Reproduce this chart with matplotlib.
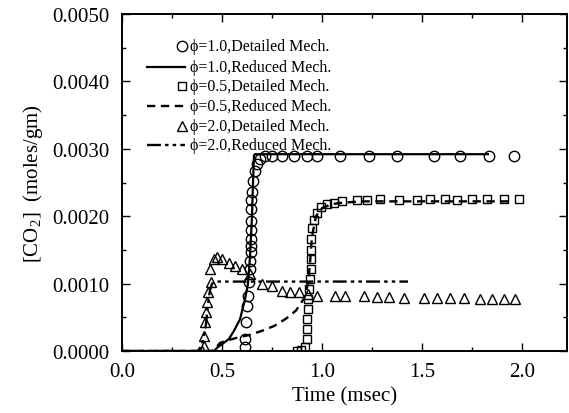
import matplotlib
matplotlib.use('Agg')
from matplotlib import pyplot as plt
from matplotlib.ticker import MultipleLocator, FormatStrFormatter

plt.rcParams['font.family'] = ['Liberation Serif', 'DejaVu Serif']
plt.rcParams['mathtext.fontset'] = 'custom'
plt.rcParams['mathtext.rm'] = 'Liberation Serif'
plt.rcParams['lines.scale_dashes'] = False

# phi = 1.0
t_det10 = [0.615, 0.615, 0.62, 0.625, 0.63, 0.635, 0.64, 0.64, 0.645, 0.645,
           0.645, 0.645, 0.645, 0.645, 0.645, 0.65, 0.655, 0.665, 0.675, 0.69,
           0.715, 0.75, 0.80, 0.86, 0.925, 0.975, 1.09, 1.235, 1.375, 1.56,
           1.69, 1.835, 1.96]
c_det10 = [0.00006, 0.00018, 0.00043, 0.00067, 0.00082, 0.00102, 0.00122, 0.00134,
           0.00147, 0.00156, 0.00166, 0.00180, 0.00193, 0.00211, 0.00224, 0.00236,
           0.00252, 0.00267, 0.00278, 0.00285, 0.00289, 0.0029, 0.0029, 0.0029,
           0.0029, 0.0029, 0.0029, 0.0029, 0.0029, 0.0029, 0.0029, 0.0029, 0.00289]
t_red10 = [0.0, 0.46, 0.48, 0.50, 0.535, 0.56, 0.59, 0.615, 0.63, 0.64, 0.65,
           0.655, 0.66, 0.665, 0.70, 1.83]
c_red10 = [0.0, 0.0, 0.00006, 0.0001, 0.00018, 0.0003, 0.00047, 0.00077, 0.001,
           0.0014, 0.002, 0.0025, 0.0029, 0.00292, 0.00292, 0.00292]

# phi = 0.5
t_det05 = [0.875, 0.895, 0.915, 0.925, 0.925, 0.925, 0.93, 0.93, 0.935, 0.94,
           0.945, 0.945, 0.945, 0.945, 0.95, 0.96, 0.975, 0.995, 1.025, 1.06,
           1.10, 1.175, 1.225, 1.29, 1.385, 1.475, 1.54, 1.615, 1.675, 1.75,
           1.825, 1.91, 1.985]
c_det05 = [0.0, 0.00002, 0.00006, 0.00018, 0.00033, 0.00047, 0.00062, 0.00077,
           0.00092, 0.00107, 0.00122, 0.00136, 0.0015, 0.00166, 0.00182, 0.00195,
           0.00205, 0.00213, 0.00218, 0.0022, 0.00222, 0.00224, 0.00224, 0.00225,
           0.00224, 0.00224, 0.00225, 0.00225, 0.00224, 0.00225, 0.00225, 0.00225,
           0.00225]
t_red05 = [0.0, 0.45, 0.47, 0.49, 0.53, 0.58, 0.64, 0.70, 0.76, 0.82, 0.87,
           0.91, 0.93, 0.94, 0.95, 0.97, 1.0, 1.05, 1.1, 1.2, 1.95]
c_red05 = [0.0, 0.0, 0.00005, 0.00012, 0.00016, 0.0002, 0.00024, 0.0003, 0.00037,
           0.00048, 0.0006, 0.00078, 0.001, 0.0013, 0.0017, 0.002, 0.00212,
           0.00218, 0.0022, 0.00222, 0.00222]

# phi = 2.0
t_det20 = [0.40, 0.41, 0.41, 0.415, 0.42, 0.425, 0.43, 0.445, 0.44, 0.46, 0.475,
           0.50, 0.535, 0.565, 0.60, 0.64, 0.70, 0.75, 0.80, 0.84, 0.885, 0.93,
           0.975, 1.065, 1.115, 1.21, 1.275, 1.335, 1.41, 1.51, 1.575, 1.64,
           1.71, 1.79, 1.85, 1.91, 1.965]
c_det20 = [0.0, 0.00007, 0.00022, 0.00043, 0.00058, 0.00073, 0.00088, 0.00102,
           0.00122, 0.00136, 0.0014, 0.00136, 0.0013, 0.00126, 0.00122, 0.00114,
           0.001, 0.00097, 0.00089, 0.00087, 0.00087, 0.00085, 0.00082, 0.00082,
           0.00082, 0.00081, 0.0008, 0.0008, 0.00079, 0.00078, 0.00078, 0.00078,
           0.00078, 0.00077, 0.00077, 0.00077, 0.00077]
t_red20 = [0.0, 0.38, 0.40, 0.42, 0.43, 0.44, 0.45, 0.47, 1.43]
c_red20 = [0.0, 0.0, 0.0001, 0.0004, 0.0007, 0.0009, 0.001, 0.00103, 0.00103]

fig = plt.figure(figsize=(5.69, 4.14), dpi=100)
ax = fig.add_axes([122/569, 1-352/414, 445/569, 337/414])

mk = dict(mfc='none', mec='black', mew=1.0, ls='none')
ax.plot(t_red10, c_red10, color='black', lw=1.6)
ax.plot(t_red05, c_red05, color='black', lw=1.7, dashes=(6, 4))
ax.plot(t_red20, c_red20, color='black', lw=1.7, dashes=(10, 3, 2.5, 3, 2.5, 3))
ax.plot(t_det10, c_det10, marker='o', ms=7.5, **mk)
ax.plot(t_det05, c_det05, marker='s', ms=6.0, **mk)
ax.plot(t_det20, c_det20, marker='^', ms=7.0, **mk)

ax.set_xlim(0, 2.225)
ax.set_ylim(0, 0.005)
ax.xaxis.set_major_locator(MultipleLocator(0.5))
ax.xaxis.set_minor_locator(MultipleLocator(0.25))
ax.yaxis.set_major_locator(MultipleLocator(0.001))
ax.yaxis.set_minor_locator(MultipleLocator(0.0005))
ax.xaxis.set_major_formatter(FormatStrFormatter('%.1f'))
ax.yaxis.set_major_formatter(FormatStrFormatter('%.4f'))
ax.tick_params(which='both', direction='in', top=True, right=True,
               width=1.0, labelsize=15)
ax.tick_params(axis='x', pad=8)
ax.tick_params(axis='y', pad=9)
ax.tick_params(which='major', length=6)
ax.tick_params(which='minor', length=3)
for s in ax.spines.values():
    s.set_linewidth(1.4)

ax.set_xlabel('Time (msec)', fontsize=15, labelpad=4)
ax.set_ylabel(r'[CO$_2$]  (moles/gm)', fontsize=15, labelpad=5)

# key, upper left
labels = ['\u03d5=1.0,Detailed Mech.', '\u03d5=1.0,Reduced Mech.',
          '\u03d5=0.5,Detailed Mech.', '\u03d5=0.5,Reduced Mech.',
          '\u03d5=2.0,Detailed Mech.', '\u03d5=2.0,Reduced Mech.']
rows = [47, 68, 87, 107, 127, 146]
tr = ax.transAxes
fx = lambda px: (px - 122) / 445
fy = lambda py: (352 - py) / 337
styles = [dict(marker='o', ms=7.5, **mk), dict(color='black', lw=1.6),
          dict(marker='s', ms=6.0, **mk), dict(color='black', lw=1.7, dashes=(6, 4)),
          dict(marker='^', ms=7.0, **mk),
          dict(color='black', lw=1.7, dashes=(10, 3, 2.5, 3, 2.5, 3))]
for lab, py, st in zip(labels, rows, styles):
    if 'marker' in st:
        ax.plot([fx(182)], [fy(py)], transform=tr, clip_on=False, **st)
    else:
        ax.plot([fx(147), fx(185)], [fy(py), fy(py)], transform=tr, **st)
    ax.text(fx(190), fy(py), lab, transform=tr, fontsize=11.5, va='center', ha='left')

fig.savefig('out.png', dpi=100)
